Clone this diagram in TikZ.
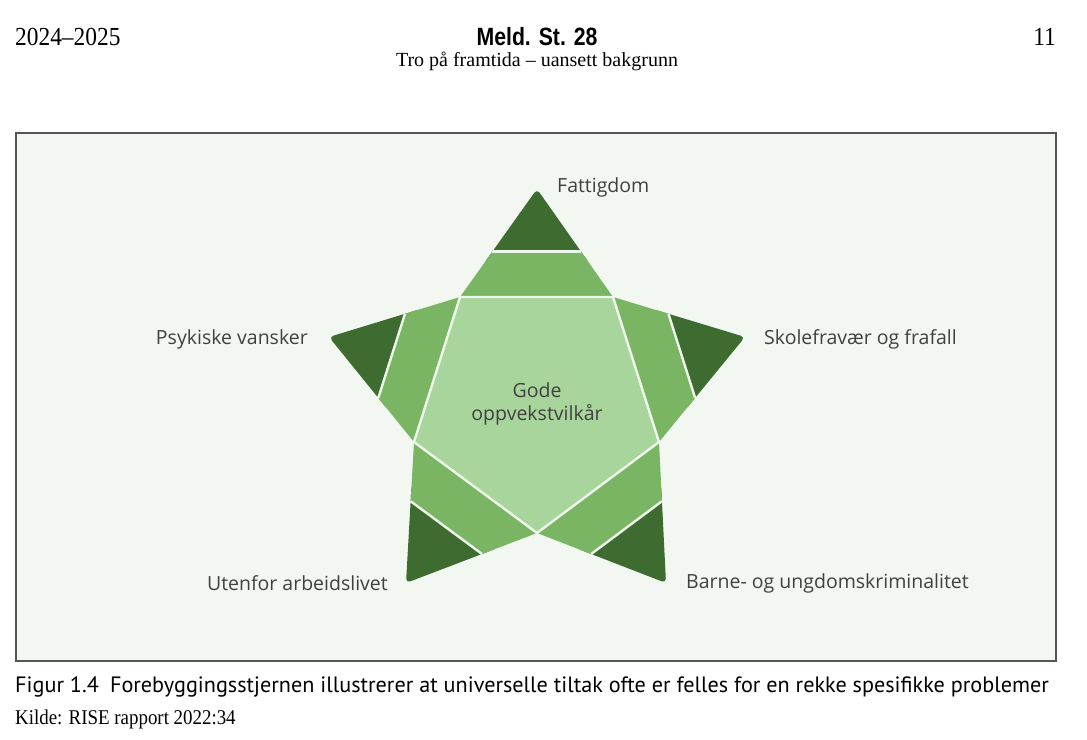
\documentclass[tikz,border=0pt]{standalone}
\usepackage{fontspec}
\setmainfont{Liberation Serif}
\newfontfamily\lblfont{Open Sans}
\newfontfamily\capfont{PT Sans}
\newfontfamily\hdfont{Liberation Sans}[FakeStretch=0.85]
\newfontfamily\serifc{Liberation Serif}[FakeStretch=0.9]
\usetikzlibrary{calc}
\definecolor{bgmint}{HTML}{F2F8F1}
\definecolor{framegray}{HTML}{555555}
\definecolor{lightgreen}{HTML}{A8D59B}
\definecolor{medgreen}{HTML}{7AB563}
\definecolor{darkgreen}{HTML}{3E6B2F}
\definecolor{sepwhite}{HTML}{EEF7EC}
\definecolor{labelgray}{HTML}{404040}
\begin{document}
\begin{tikzpicture}[x=1pt,y=-1pt,
  sep/.style={draw=sepwhite,line width=2.4pt},
  lbl/.style={inner sep=0pt,text=labelgray,font=\lblfont\fontsize{19.5}{23}\selectfont},
  hdr/.style={inner sep=0pt,text=black}]
\useasboundingbox (0,0) rectangle (1087,739);
\fill[white] (0,0) rectangle (1087,739);
% frame
\draw[framegray,line width=2pt,fill=bgmint] (16,133) rectangle (1056,661);
% pentagon vertices
\coordinate (p0) at (537,533);
\coordinate (p1) at (659,442);
\coordinate (p2) at (613,297);
\coordinate (p3) at (460,297);
\coordinate (p4) at (414,442);
% tips
\coordinate (t0) at (537,189);
\coordinate (t1) at (745,337);
\coordinate (t2) at (666,583);
\coordinate (t3) at (406,583);
\coordinate (t4) at (329,337);
\fill[lightgreen] (p0) -- (p1) -- (p2) -- (p3) -- (p4) -- cycle;
\foreach \a/\b/\t in {p3/p2/t0, p2/p1/t1, p1/p0/t2, p0/p4/t3, p4/p3/t4}{
  \fill[darkgreen,rounded corners=4.5pt] ($(\a)!0.3!(\t)$) -- ($(\b)!0.3!(\t)$) -- (\t) -- cycle;
  \fill[medgreen] (\a) -- (\b) -- ($(\b)!0.42!(\t)$) -- ($(\a)!0.42!(\t)$) -- cycle;
  \draw[sep] ($(\a)!0.42!(\t)$) -- ($(\b)!0.42!(\t)$);
}
\draw[sep] (p0) -- (p1) -- (p2) -- (p3) -- (p4) -- cycle;
% center text
\node[lbl,align=center,font=\lblfont\fontsize{19.5}{23}\selectfont] (center) at (537,404) {Gode\\oppvekstvilkår};
% labels
\node[lbl,anchor=west] (fattig) at (557,187) {Fattigdom};
\node[lbl,anchor=west] (skole) at (764,339) {Skolefravær og frafall};
\node[lbl,anchor=east] (psyk) at (308,339) {Psykiske vansker};
\node[lbl,anchor=east] (uten) at (388,583) {Utenfor arbeidslivet};
\node[lbl,anchor=west] (barne) at (686,583) {Barne- og ungdomskriminalitet};
% header
\node[hdr,anchor=west,font=\serifc\fontsize{26}{28}\selectfont] (year) at (15,37) {2024–2025};
\node[hdr,font=\hdfont\bfseries\fontsize{25}{27}\selectfont] (meld) at (537,37) {Meld. St. 28};
\node[hdr,font=\rmfamily\fontsize{20}{22}\selectfont] (tro) at (537,61) {Tro på framtida – uansett bakgrunn};
\node[hdr,anchor=east,font=\serifc\fontsize{26}{28}\selectfont] (page) at (1056,37) {11};
% caption
\node[hdr,anchor=west,font=\capfont\fontsize{22.2}{24}\selectfont] (cap) at (15,687) {Figur 1.4\hspace{0.5em}Forebyggingsstjernen illustrerer at universelle tiltak ofte er felles for en rekke spesifikke problemer};
\node[hdr,anchor=west,font=\serifc\fontsize{21}{23}\selectfont] (kilde) at (15,719) {Kilde: RISE rapport 2022:34};
\end{tikzpicture}
\end{document}
